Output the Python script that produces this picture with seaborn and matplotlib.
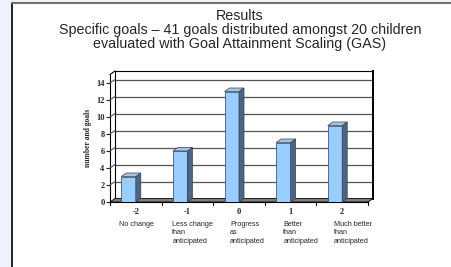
"""
Recreate the GAS results column chart (pseudo-3D columns) with seaborn.
"""

import numpy as np
import pandas as pd
import matplotlib
matplotlib.use("Agg")
import matplotlib.pyplot as plt
from matplotlib.patches import Polygon, Rectangle
import seaborn as sns

# --- data -------------------------------------------------------------
scores = ["-2", "-1", "0", "1", "2"]
goals = [3, 6, 13, 7, 9]
descriptions = [
    "No change",
    "Less change\nthan\nanticipated",
    "Progress\nas\nanticipated",
    "Better\nthan\nanticipated",
    "Much better\nthan\nanticipated",
]
title_lines = [
    "Results",
    "Specific goals \u2013 41 goals distributed amongst 20 children",
    "evaluated with Goal Attainment Scaling (GAS)",
]
y_ticks = [0, 2, 4, 6, 8, 10, 12, 14]
y_label = "number and goals"

# --- layout / style ---------------------------------------------------
W, H = 452, 267
FRONT = "#99CCFF"
SIDE = "#4D6585"
TOP = "#A9C4E0"
FLOOR = "#7F7F7F"
DEPTH_PX = (5, 3.5)         # 3-D depth offset in pixels
label_dx = [-0.33, -0.29, -0.17, -0.14, -0.16]

sns.set_style("white")
plt.rcParams["font.family"] = ["Liberation Sans", "DejaVu Sans"]

df = pd.DataFrame({"score": scores, "goals": goals})

fig = plt.figure(figsize=(W / 100, H / 100), dpi=100)
fig.patch.set_facecolor("#EEF3FB")

# white slide panel
panel = Rectangle((12 / W, -0.05), 1.2, 1 - 3 / H + 0.05, transform=fig.transFigure,
                  facecolor="white", edgecolor="none", zorder=0)
fig.add_artist(panel)
fig.add_artist(plt.Line2D([12 / W, 12 / W], [0, 1 - 3 / H], transform=fig.transFigure,
                          color="black", lw=1.2))
fig.add_artist(plt.Line2D([12 / W, 1.01], [1 - 3 / H, 1 - 3 / H], transform=fig.transFigure,
                          color="#707070", lw=1.5))

fig.text(240 / W, 1 - 9.5 / H, "\n".join(title_lines), ha="center", va="top",
         fontsize=10.3, linespacing=0.97)

# front axes geometry (pixels)
fl, fr, ft, fb = 110, 368, 74.5, 202
pos = [fl / W, (H - fb) / H, (fr - fl) / W, (fb - ft) / H]
back_pos = [pos[0] + DEPTH_PX[0] / W, pos[1] + DEPTH_PX[1] / H, pos[2], pos[3]]

ymax = 15
xlim = (-0.5, len(scores) - 0.5)
dx = DEPTH_PX[0] / (fr - fl) * (xlim[1] - xlim[0])
dy = DEPTH_PX[1] / (fb - ft) * ymax

# back wall with gridlines
axb = fig.add_axes(back_pos, zorder=1)
axb.set_xlim(*xlim)
axb.set_ylim(0, ymax)
axb.set_facecolor("white")
for y in y_ticks[1:]:
    axb.axhline(y, color="#555555", lw=0.9)
axb.set_xticks([])
axb.set_yticks([])
for side in ["top", "left", "right"]:
    axb.spines[side].set_color("black")
axb.spines["right"].set_linewidth(1.4)
axb.spines["bottom"].set_visible(False)

# front axes with the columns
ax = fig.add_axes(pos, zorder=2)
ax.patch.set_alpha(0)
sns.barplot(data=df, x="score", y="goals", order=scores, color=FRONT,
            width=0.28, saturation=1, edgecolor="#2F3F55", linewidth=0.5, ax=ax, zorder=5)
ax.set_xlim(*xlim)
ax.set_ylim(0, ymax)

# floor and left wall
floor = Polygon([(xlim[0], 0), (xlim[1], 0), (xlim[1] + dx, dy), (xlim[0] + dx, dy)],
                closed=True, facecolor=FLOOR, edgecolor="black", lw=0.6, clip_on=False, zorder=3)
ax.add_patch(floor)
for y in y_ticks[1:] + [ymax]:
    ax.plot([xlim[0], xlim[0] + dx], [y, y + dy], color="#555555" if y < ymax else "black",
            lw=0.8, clip_on=False, zorder=3)

# give each column a side and a top face
for bar in list(ax.patches):
    if bar is floor:
        continue
    w = bar.get_width()
    bar.set_x(bar.get_x() - w / 2)
    x0, h = bar.get_x(), bar.get_height()
    x1 = x0 + w
    ax.add_patch(Polygon([(x1, 0), (x1, h), (x1 + dx, h + dy), (x1 + dx, dy)],
                         closed=True, facecolor=SIDE, edgecolor="#2F3F55", lw=0.5,
                         clip_on=False, zorder=5))
    ax.add_patch(Polygon([(x0, h), (x1, h), (x1 + dx, h + dy), (x0 + dx, h + dy)],
                         closed=True, facecolor=TOP, edgecolor="#2F3F55", lw=0.5,
                         clip_on=False, zorder=5))

# axes decoration
for side in ["top", "right"]:
    ax.spines[side].set_visible(False)
ax.spines["left"].set_color("black")
ax.spines["bottom"].set_color("black")
ax.set_yticks(y_ticks)
ax.set_yticklabels([str(t) for t in y_ticks], fontfamily="Liberation Serif",
                   fontweight="bold", fontsize=6)
ax.set_xticks(range(len(scores)))
ax.set_xticklabels(scores, fontfamily="Liberation Serif", fontweight="bold", fontsize=6)
ax.tick_params(axis="y", direction="out", length=3, width=0.8, pad=1, left=True)
ax.tick_params(axis="x", length=0, pad=4)
for b in np.arange(xlim[0], xlim[1] + 0.01, 1.0):
    ax.plot([b, b], [0, -0.35], color="black", lw=0.8, clip_on=False)
ax.set_xlabel("")
ax.set_ylabel(y_label, fontfamily="Liberation Serif", fontweight="bold", fontsize=5.5,
              labelpad=3)

# descriptions under the scores
trans = ax.get_xaxis_transform()
for i, text in enumerate(descriptions):
    ax.text(i + label_dx[i], -(223 - 2 - fb) / (fb - ft), text, transform=trans,
            ha="left", va="top", fontsize=5.2, linespacing=1.3)

plt.savefig("out.png", dpi=100)
plt.close()
